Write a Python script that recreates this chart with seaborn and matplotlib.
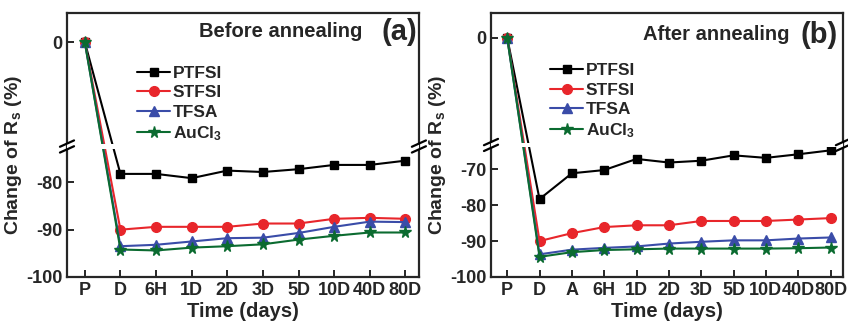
import numpy as np
import matplotlib
matplotlib.use("Agg")
import matplotlib.pyplot as plt
import seaborn as sns

# ------------- Data -------------
before_labels = ['P', 'D', '6H', '1D', '2D', '3D', '5D', '10D', '40D', '80D']
after_labels = ['P', 'D', 'A', '6H', '1D', '2D', '3D', '5D', '10D', '40D', '80D']

series_names = ['PTFSI', 'STFSI', 'TFSA', 'AuCl$_3$']

before_ptfsi = [0, -78.2, -78.2, -79.1, -77.5, -77.8, -77.2, -76.3, -76.3, -75.4]
before_stfsi = [0, -90.0, -89.4, -89.4, -89.4, -88.7, -88.7, -87.7, -87.5, -87.7]
before_tfsa = [0, -93.5, -93.2, -92.5, -91.8, -91.7, -90.7, -89.4, -88.3, -88.4]
before_aucl3 = [0, -94.2, -94.4, -93.8, -93.5, -93.1, -92.1, -91.3, -90.6, -90.6]

after_ptfsi = [0, -78.3, -71.1, -70.2, -67.1, -68.1, -67.6, -66.1, -66.8, -65.8, -64.7]
after_stfsi = [0, -90.0, -87.8, -86.1, -85.6, -85.6, -84.4, -84.4, -84.4, -84.0, -83.6]
after_tfsa = [0, -93.7, -92.4, -91.9, -91.5, -90.7, -90.2, -89.8, -89.8, -89.3, -89.0]
after_aucl3 = [0, -94.4, -93.1, -92.5, -92.3, -92.1, -92.1, -92.1, -92.1, -92.0, -91.8]

before_ticks = [0, -80, -90, -100]
after_ticks = [0, -70, -80, -90, -100]

# ------------- Style -------------
sns.set_style('ticks')
plt.rcParams['font.family'] = ['Liberation Sans', 'DejaVu Sans']
plt.rcParams['font.weight'] = 'bold'
plt.rcParams['axes.labelweight'] = 'bold'
plt.rcParams['axes.unicode_minus'] = False
plt.rcParams['mathtext.fontset'] = 'custom'
plt.rcParams['mathtext.rm'] = 'Liberation Sans:bold'
plt.rcParams['mathtext.default'] = 'rm'

colors = ['black', '#e8262b', '#3a4ca8', '#0b6b30']
markers = ['s', 'o', '^', '*']
msizes = [6, 7, 7, 8.5]


# piecewise linear y scale: compress everything above the break
def make_scale(brk, k):
    def fwd(v):
        v = np.asarray(v, dtype=float)
        return np.where(v <= brk, v, brk + (v - brk) * k)

    def inv(t):
        t = np.asarray(t, dtype=float)
        return np.where(t <= brk, t, brk + (t - brk) / k)
    return fwd, inv


def draw_panel(ax, labels, data, ticks, brk, k, ytop, title, tag, title_x, tag_x, text_y, leg_anchor):
    xpos = np.arange(len(labels))
    for vals, name, c, m, ms in zip(data, series_names, colors, markers, msizes):
        sns.lineplot(x=xpos, y=vals, color=c, marker=m, markersize=ms,
                     markeredgecolor=c, markeredgewidth=1, linewidth=1.5,
                     label=name, ax=ax)

    fwd, inv = make_scale(brk, k)
    ax.set_yscale('function', functions=(fwd, inv))
    ax.set_ylim(-100, ytop)
    ax.set_yticks(ticks)
    ax.set_yticklabels([str(t) for t in ticks])
    ax.set_xlim(-0.5, len(labels) - 0.62)
    ax.set_xticks(xpos)
    ax.set_xticklabels(labels)
    ax.minorticks_off()

    ax.tick_params(direction='in', length=5, width=1.4, labelsize=13)
    for sp in ax.spines.values():
        sp.set_linewidth(1.6)
        sp.set_visible(True)

    ax.set_xlabel('Time (days)', fontsize=14.5, labelpad=2)
    ax.set_ylabel('Change of R$_s$ (%)', fontsize=14, labelpad=1, y=0.46)

    ax.text(title_x, text_y, title, transform=ax.transAxes, ha='right', va='center',
            fontsize=14.5, fontweight='bold')
    ax.text(tag_x, text_y, tag, transform=ax.transAxes, ha='right', va='center',
            fontsize=21, fontweight='bold')

    leg = ax.legend(loc='upper left', bbox_to_anchor=leg_anchor, frameon=False,
                    fontsize=12.5, handlelength=1.9, handletextpad=0.15,
                    labelspacing=0.25, borderpad=0, borderaxespad=0)
    for t in leg.get_texts():
        t.set_fontweight('bold')

    # axis break: white band plus "//" marks on both spines
    lo, hi = fwd(-100), fwd(ytop)
    frac = float((fwd(brk) - lo) / (hi - lo))
    ax.add_patch(plt.Rectangle((0, frac - 0.008), 1, 0.016, transform=ax.transAxes,
                               facecolor='white', edgecolor='none', zorder=4))
    for xs in (0, 1):
        for off in (-0.011, 0.011):
            ax.plot([xs - 0.02, xs + 0.02], [frac + off - 0.012, frac + off + 0.012],
                    transform=ax.transAxes, color='black', lw=1.6,
                    clip_on=False, zorder=6)


fig = plt.figure(figsize=(8.48, 3.22), dpi=100)
ax1 = fig.add_axes([0.079, 0.14, 0.415, 0.82])
ax2 = fig.add_axes([0.579, 0.14, 0.415, 0.82])

draw_panel(ax1, before_labels, [before_ptfsi, before_stfsi, before_tfsa, before_aucl3],
           before_ticks, -72.4, 0.305, 20.3, 'Before annealing', '(a)',
           0.838, 0.994, 0.928, (0.2, 0.80))
draw_panel(ax2, after_labels, [after_ptfsi, after_stfsi, after_tfsa, after_aucl3],
           after_ticks, -63.2, 0.474, 14.5, 'After annealing', '(b)',
           0.847, 0.985, 0.917, (0.168, 0.81))

fig.savefig('out.png', dpi=100)
